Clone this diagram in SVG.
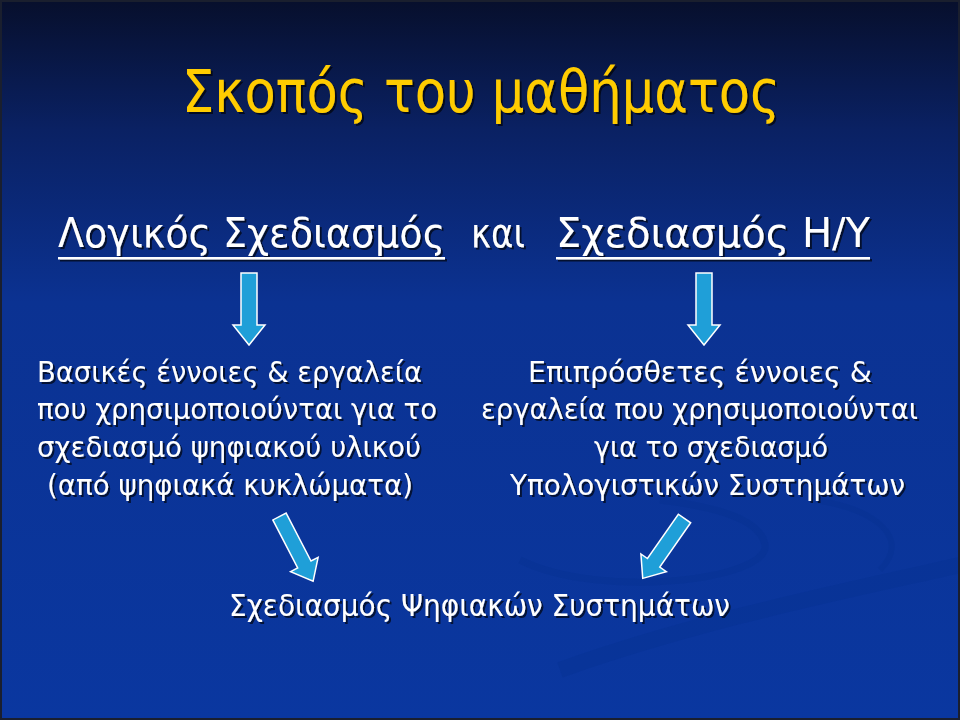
<svg xmlns="http://www.w3.org/2000/svg" width="960" height="720" viewBox="0 0 960 720">
  <defs>
    <linearGradient id="bg" x1="0" y1="0" x2="0" y2="1">
      <stop offset="0" stop-color="#070f2c"/>
      <stop offset="0.18" stop-color="#0a2163"/>
      <stop offset="0.42" stop-color="#0b3292"/>
      <stop offset="1" stop-color="#0a37a0"/>
    </linearGradient>
    <filter id="shadow" filterUnits="userSpaceOnUse" x="0" y="0" width="960" height="720">
      <feDropShadow dx="2" dy="2" stdDeviation="0.7" flood-color="#000" flood-opacity="0.65"/>
    </filter>
    <style>
      .t { font-family: "DejaVu Sans", "Open Sans", sans-serif; fill: #ffffff; filter: url(#shadow); }
      .title { font-size: 59px; fill: #ffcc00; }
      .sub { font-size: 40px; }
      .body { font-size: 28px; }
      .bottom { font-size: 30px; }
      .ul { fill: #ffffff; filter: url(#shadow); }
      .arrow { fill: #1f9fd8; stroke: #ffffff; stroke-width: 1.5; stroke-linejoin: miter; }
      .swoosh { fill: none; stroke: #06308f; stroke-opacity: 0.35; }
    </style>
  </defs>

  <rect x="0" y="0" width="960" height="720" fill="url(#bg)"/>
  <g id="swoosh">
    <path class="swoosh" stroke-width="16" d="M560,670 C700,620 850,590 960,565"/>
    <path class="swoosh" stroke-width="7" d="M520,560 C600,600 770,580 765,545 C760,515 700,505 660,500"/>
    <path class="swoosh" stroke-width="6" d="M815,500 C880,510 910,540 880,570"/>
  </g>
  <rect x="1" y="1" width="958" height="718" fill="none" stroke="#1a1f2e" stroke-width="2"/>

  <g id="title">
    <text class="t title" x="182" y="112" textLength="598" lengthAdjust="spacingAndGlyphs">Σκοπός του μαθήματος</text>
  </g>

  <g id="logic-design">
    <text class="t sub" x="58" y="247" textLength="387" lengthAdjust="spacingAndGlyphs">Λογικός Σχεδιασμός</text>
    <rect class="ul" x="58" y="257" width="387" height="2.5"/>
  </g>
  <g id="and">
    <text class="t sub" x="471" y="247" textLength="54" lengthAdjust="spacingAndGlyphs">και</text>
  </g>
  <g id="computer-design">
    <text class="t sub" x="556" y="247" textLength="314" lengthAdjust="spacingAndGlyphs">Σχεδιασμός Η/Υ</text>
    <rect class="ul" x="556" y="257" width="314" height="2.5"/>
  </g>

  <g id="basic-concepts">
    <text class="t body" x="37" y="382" textLength="385" lengthAdjust="spacingAndGlyphs">Βασικές έννοιες &amp; εργαλεία</text>
    <text class="t body" x="37" y="419" textLength="400" lengthAdjust="spacingAndGlyphs">που χρησιμοποιούνται για το</text>
    <text class="t body" x="37" y="457" textLength="384" lengthAdjust="spacingAndGlyphs">σχεδιασμό ψηφιακού υλικού</text>
    <text class="t body" x="47" y="495" textLength="366" lengthAdjust="spacingAndGlyphs">(από ψηφιακά κυκλώματα)</text>
  </g>

  <g id="additional-concepts">
    <text class="t body" x="528" y="382" textLength="344" lengthAdjust="spacingAndGlyphs">Επιπρόσθετες έννοιες &amp;</text>
    <text class="t body" x="481" y="419" textLength="437" lengthAdjust="spacingAndGlyphs">εργαλεία που χρησιμοποιούνται</text>
    <text class="t body" x="594" y="457" textLength="234" lengthAdjust="spacingAndGlyphs">για το σχεδιασμό</text>
    <text class="t body" x="510" y="495" textLength="395" lengthAdjust="spacingAndGlyphs">Υπολογιστικών Συστημάτων</text>
  </g>

  <g id="digital-systems">
    <text class="t bottom" x="229" y="616" textLength="501" lengthAdjust="spacingAndGlyphs">Σχεδιασμός Ψηφιακών Συστημάτων</text>
  </g>

  <g id="connectors">
    <polygon class="arrow" points="241,273 257,273 257,325 265,325 249,345 233,325 241,325"/>
    <polygon class="arrow" points="696,273 712,273 712,325 720,325 704,345 688,325 696,325"/>
    <polygon class="arrow" transform="translate(279.5,516.5) rotate(62.6)" points="0,-7.5 54,-7.5 54,-15.5 73,0 54,15.5 54,7.5 0,7.5"/>
    <polygon class="arrow" transform="translate(684.5,518.5) rotate(124.9)" points="0,-7.5 54,-7.5 54,-15.5 73,0 54,15.5 54,7.5 0,7.5"/>
  </g>
</svg>
